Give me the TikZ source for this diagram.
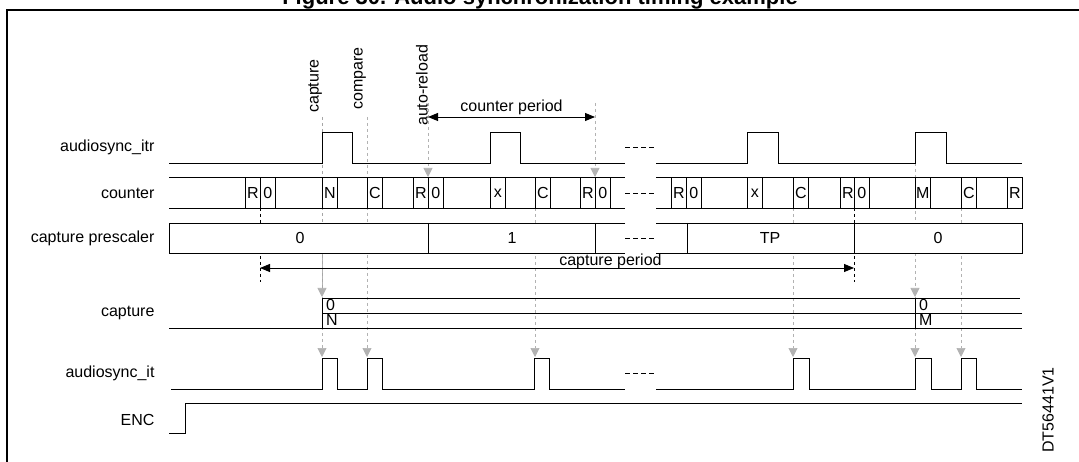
\documentclass[tikz,border=0pt]{standalone}
\usepackage{fontspec}
\setmainfont{Liberation Sans}
\usetikzlibrary{arrows.meta}

\tikzset{
  sig/.style={line width=0.9pt},
  guide/.style={gray!70,dashed,line width=0.7pt},
  tick/.style={black,dashed,line width=0.9pt},
  hit/.style={gray!60,dashed,line width=0.7pt,-{Triangle[width=9pt,length=9pt]}},
  cellbox/.style={draw,fill=white,line width=0.7pt},
  lbl/.style={anchor=east,font=\fontsize{16}{18}\selectfont},
  txt/.style={font=\fontsize{16}{18}\selectfont},
  gap/.style={line width=0.9pt,dash pattern=on 5pt off 3pt}
}

\begin{document}
\begin{tikzpicture}[x=1pt,y=-1pt]
 \useasboundingbox (0,0) rectangle (1079,462);
 % frame and title
 \draw[line width=1.4pt] (7,470) -- (7,10) -- (1090,10);
 \node[font=\bfseries\fontsize{22}{24}\selectfont,anchor=base] (title) at (540,5) {Figure 30. Audio synchronization timing example};
 \node[rotate=90,txt] (ref) at (1048,410) {DT56441V1};
 % signal names
 \node[lbl] (litr) at (158,147) {audiosync\_itr};
 \node[lbl] (lcnt) at (158,193) {counter};
 \node[lbl] (lpsc) at (158,238) {capture prescaler};
 \node[lbl] (lcap) at (158,313) {capture};
 \node[lbl] (lit) at (158,373) {audiosync\_it};
 \node[lbl] (lenc) at (158,420) {ENC};
 % event guides
 \draw[guide] (322,117) -- (322,295);
 \draw[hit] (322,240) -- (322,297);
 \draw[hit] (322,297) -- (322,357);
 \draw[hit] (367,117) -- (367,357);
 \draw[hit] (428,103) -- (428,177);
 \draw[hit] (595,103) -- (595,177);
 \draw[hit] (535,208) -- (535,357);
 \draw[hit] (793,208) -- (793,357);
 \draw[hit] (915,163) -- (915,297);
 \draw[hit] (915,297) -- (915,357);
 \draw[hit] (961,208) -- (961,357);
 \draw[tick] (260,208) -- (260,282);
 \draw[tick] (854,208) -- (854,282);
 % event names
 \node[rotate=90,anchor=west,txt,inner sep=1pt] (ncap) at (315,114) {capture};
 \node[rotate=90,anchor=west,txt,inner sep=1pt] (ncmp) at (360,111) {compare};
 \node[rotate=90,anchor=west,txt,inner sep=1pt] (nrld) at (422,127) {auto-reload};
 % periods
 \coordinate (cp1) at (428,117);
 \coordinate (cp2) at (595,117);
 \draw[{Triangle[width=8pt,length=10pt]}-{Triangle[width=8pt,length=10pt]},line width=0.9pt] (cp1) -- (cp2) node[midway,above=-2pt,txt] {counter period};
 % audiosync_itr
 \draw[sig] (169,163) -- (322,163) -- (322,132) -- (352,132) -- (352,163) -- (490,163) -- (490,132) -- (520,132) -- (520,163) -- (625,163);
 \draw[sig] (656,163) -- (747,163) -- (747,132) -- (778,132) -- (778,163) -- (915,163) -- (915,132) -- (946,132) -- (946,163) -- (1022,163);
 \draw[gap] (625,147) -- (655,147);
 % counter
 \draw[line width=0.7pt] (169,177) -- (625,177) (169,208) -- (625,208) (656,177) -- (1022,177) (656,208) -- (1022,208);
 \draw[gap] (625,193) -- (655,193);
 \foreach \x/\t [count=\i] in {245/R,260/0,322/N,367/C,413/R,428/0,490/x,535/C,580/R,595/0,
     671/R,686/0,747/x,793/C,840/R,854/0,915/M,961/C,1007/R}
   \node[cellbox,minimum width=15pt,minimum height=31pt,inner sep=0pt,anchor=north west,txt] (cell\i) at (\x,177) {\t};
 % capture prescaler
 \draw[line width=0.7pt,fill=white] (625,223) -- (169,223) -- (169,253) -- (625,253);
 \draw[line width=0.7pt,fill=white] (656,223) -- (1022,223) -- (1022,253) -- (656,253);
 \draw[line width=0.7pt] (428,223) -- (428,253) (595,223) -- (595,253) (687,223) -- (687,253) (854,223) -- (854,253);
 \draw[gap] (625,238) -- (655,238);
 \node[txt] (p0) at (300,238) {0};
 \node[txt] (p1) at (512,238) {1};
 \node[txt] (p2) at (770,238) {TP};
 \node[txt] (p3) at (938,238) {0};
 \coordinate (sp1) at (260,268);
 \coordinate (sp2) at (854,268);
 \draw[{Triangle[width=8pt,length=10pt]}-{Triangle[width=8pt,length=10pt]},line width=0.9pt] (sp1) -- (sp2) node[pos=0.59,above=-5pt,txt] {capture period};
 % capture
 \draw[line width=0.7pt] (322,298) -- (1020,298) (322,313) -- (1022,313) (169,328) -- (1022,328);
 \draw[line width=0.9pt] (322,298) -- (322,328) (915,298) -- (915,328);
 \node[txt,anchor=west,inner sep=0pt] (c0) at (326,305) {0};
 \node[txt,anchor=west,inner sep=0pt] (cn) at (326,320) {N};
 \node[txt,anchor=west,inner sep=0pt] (c1) at (919,305) {0};
 \node[txt,anchor=west,inner sep=0pt] (cm) at (919,320) {M};
 % audiosync_it
 \draw[sig] (171,389) -- (322,389) -- (322,358) -- (337,358) -- (337,389) -- (367,389) -- (367,358) -- (382,358) -- (382,389)
   -- (534,389) -- (534,358) -- (549,358) -- (549,389) -- (625,389);
 \draw[sig] (656,389) -- (793,389) -- (793,358) -- (809,358) -- (809,389) -- (915,389) -- (915,358) -- (931,358) -- (931,389)
   -- (961,389) -- (961,358) -- (976,358) -- (976,389) -- (1022,389);
 \draw[gap] (625,373) -- (655,373);
 % ENC
 \draw[sig] (169,433) -- (185,433) -- (185,403) -- (1022,403);
\end{tikzpicture}
\end{document}
